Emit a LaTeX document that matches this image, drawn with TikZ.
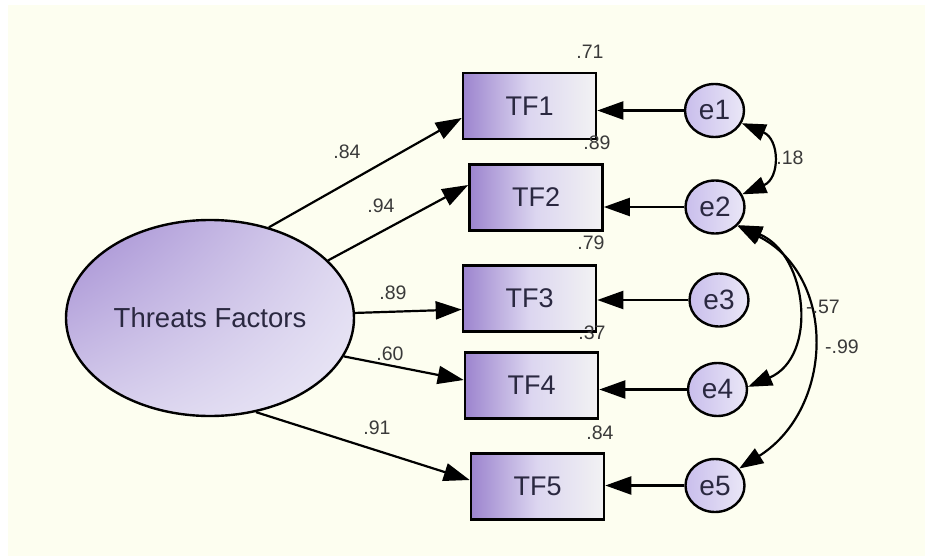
\documentclass[tikz,border=0pt]{standalone}
\usepackage{fontspec}
\setmainfont{Liberation Sans}
\usetikzlibrary{arrows.meta,shapes.geometric,calc,shadings}
\definecolor{bgcream}{HTML}{FDFEF0}
\definecolor{purpA}{HTML}{9C84CE}
\definecolor{purpM}{HTML}{DCD6F0}
\definecolor{purpL}{HTML}{F2F2F3}
\definecolor{ellA}{HTML}{A28BD2}
\definecolor{ellL}{HTML}{ECEAF7}
\definecolor{circA}{HTML}{C9BEEC}
\definecolor{circL}{HTML}{EAE7F7}
\definecolor{txt}{HTML}{2A2840}
\definecolor{numc}{HTML}{3A3A3A}
\tikzset{
  obs/.style={draw=black, line width=2.6pt, rectangle, minimum width=133pt, minimum height=66pt,
    left color=purpA, right color=purpL, middle color=purpM, font=\fontsize{27}{29}\selectfont, text=txt},
  lat/.style={draw=black, line width=2.4pt, ellipse, minimum width=288pt, minimum height=196pt,
    upper left=ellA, upper right=ellL!80!ellA, lower left=ellL!70!ellA, lower right=ellL,
    font=\fontsize{27.5}{29}\selectfont, text=txt},
  err/.style={draw=black, line width=2.4pt, ellipse, minimum width=59pt, minimum height=53pt, inner sep=0pt,
    left color=circA, right color=circL, font=\fontsize{28}{30}\selectfont, text=txt},
  ldpath/.style={line width=2.2pt, -{Triangle[length=26pt,width=18pt]}},
  cov/.style={line width=2.2pt, {Triangle[length=24pt,width=17pt]}-{Triangle[length=24pt,width=17pt]}},
  num/.style={font=\fontsize{19.5}{21}\selectfont, text=numc, inner sep=0pt},
}
\begin{document}
\begin{tikzpicture}[x=1pt,y=-1pt]
\useasboundingbox (0,0) rectangle (925,556);
\fill[white] (0,0) rectangle (925,556);
\fill[bgcream] (8,5) rectangle (925,556);

% latent
\node[lat] (tf) at (210,318) {Threats Factors};

% observed
\node[obs] (tf1) at (529.5,106) {TF1};
\node[obs] (tf2) at (536,197.5) {TF2};
\node[obs] (tf3) at (529.5,298.5) {TF3};
\node[obs] (tf4) at (531.5,385.5) {TF4};
\node[obs] (tf5) at (537.5,486.5) {TF5};

% errors
\node[err] (e1) at (714.5,110.5) {e1};
\node[err] (e2) at (715,207) {e2};
\node[err] (e3) at (719,300) {e3};
\node[err] (e4) at (717.5,389.5) {e4};
\node[err] (e5) at (715,485.5) {e5};

% loading paths
\draw[ldpath] (tf.57.8) -- ($(tf1.west)+(0,12)$);
\draw[ldpath] (tf.26) -- ($(tf2.west)+(0,-12.5)$);
\draw[ldpath] (tf.2) -- ($(tf3.west)+(0,11)$);
\draw[ldpath] (tf.-16) -- ($(tf4.west)+(0,-5.5)$);
\draw[ldpath] (tf.-64.7) -- ($(tf5.west)+(0,-6.5)$);

% error paths
\draw[ldpath] (e1.west) -- (e1.west -| tf1.east);
\draw[ldpath] (e2.west) -- (e2.west -| tf2.east);
\draw[ldpath] (e3.west) -- (e3.west -| tf3.east);
\draw[ldpath] (e4.west) -- (e4.west -| tf4.east);
\draw[ldpath] (e5.west) -- (e5.west -| tf5.east);

% covariances
\draw[cov] (e1.-25) .. controls +(38,16) and +(38,-16) .. (e2.25);
\draw[cov] (e2.-38) .. controls +(70,30) and +(70,-30) .. (e4.5);
\draw[cov] (e2.-40) .. controls +(100,50) and +(95,-60) .. (e5.35);

% labels
\node[num] (l71) at (590,52) {.71};
\node[num] (l89) at (597,143) {.89};
\node[num] (l79) at (591,243) {.79};
\node[num] (l37) at (592,333) {.37};
\node[num] (l84) at (600,433) {.84};

\node[num] (p1) at (347,152) {.84};
\node[num] (p2) at (381,206) {.94};
\node[num] (p3) at (393,293) {.89};
\node[num] (p4) at (390,354) {.60};
\node[num] (p5) at (377,428) {.91};

\node[num] (c12) at (790,158) {.18};
\node[num] (c24) at (823,307) {-.57};
\node[num] (c25) at (842,347) {-.99};
\end{tikzpicture}
\end{document}
